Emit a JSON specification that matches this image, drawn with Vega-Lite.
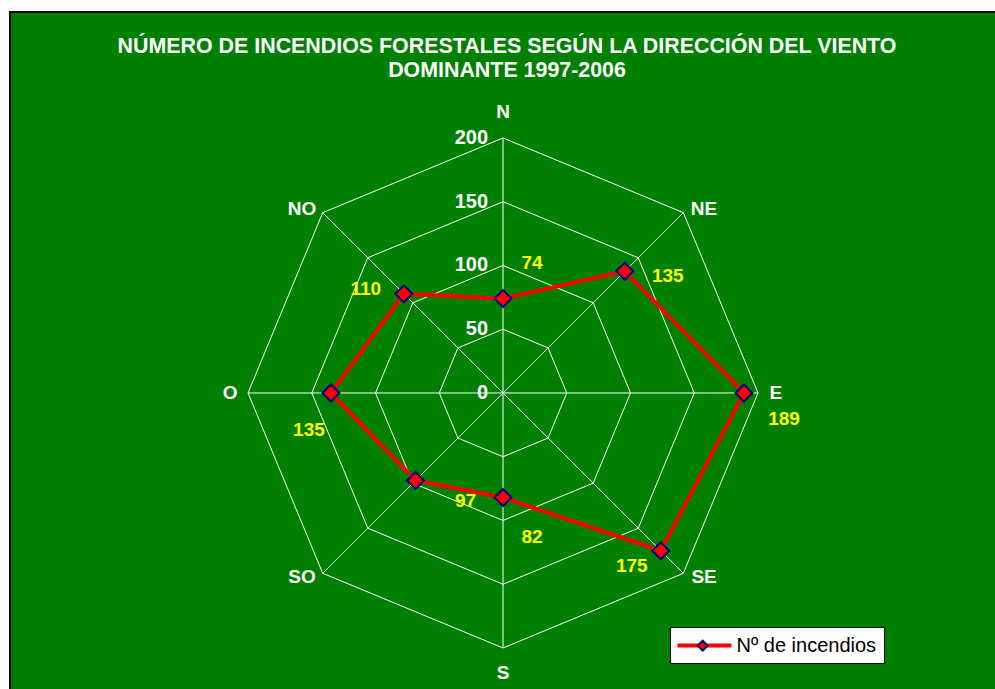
{
  "$schema": "https://vega.github.io/schema/vega-lite/v6.json",
  "autosize": {"type": "none"},
  "width": 990,
  "height": 682,
  "padding": {"left": 10, "top": 12, "right": 0, "bottom": 0},
  "background": "white",
  "config": {"view": {"fill": "#008000", "stroke": "black", "strokeWidth": 2}},
  "title": {
    "text": ["NÚMERO DE INCENDIOS FORESTALES SEGÚN LA DIRECCIÓN DEL VIENTO", "DOMINANTE 1997-2006"],
    "color": "white", "font": "Liberation Sans", "fontSize": 21.4, "fontWeight": "bold",
    "anchor": "middle", "baseline": "alphabetic", "offset": -86, "lineHeight": 24, "dx": 2
  },
  "datasets": {
    "main": [
      {"dir": "N", "k": 0, "v": 74, "serie": "Nº de incendios"},
      {"dir": "NE", "k": 1, "v": 135, "serie": "Nº de incendios"},
      {"dir": "E", "k": 2, "v": 189, "serie": "Nº de incendios"},
      {"dir": "SE", "k": 3, "v": 175, "serie": "Nº de incendios"},
      {"dir": "S", "k": 4, "v": 82, "serie": "Nº de incendios"},
      {"dir": "SO", "k": 5, "v": 97, "serie": "Nº de incendios"},
      {"dir": "O", "k": 6, "v": 135, "serie": "Nº de incendios"},
      {"dir": "NO", "k": 7, "v": 110, "serie": "Nº de incendios"}
    ],
    "grid": [
      {"k": 0, "r": 50}, {"k": 1, "r": 50}, {"k": 2, "r": 50}, {"k": 3, "r": 50},
      {"k": 4, "r": 50}, {"k": 5, "r": 50}, {"k": 6, "r": 50}, {"k": 7, "r": 50},
      {"k": 0, "r": 100}, {"k": 1, "r": 100}, {"k": 2, "r": 100}, {"k": 3, "r": 100},
      {"k": 4, "r": 100}, {"k": 5, "r": 100}, {"k": 6, "r": 100}, {"k": 7, "r": 100},
      {"k": 0, "r": 150}, {"k": 1, "r": 150}, {"k": 2, "r": 150}, {"k": 3, "r": 150},
      {"k": 4, "r": 150}, {"k": 5, "r": 150}, {"k": 6, "r": 150}, {"k": 7, "r": 150},
      {"k": 0, "r": 200}, {"k": 1, "r": 200}, {"k": 2, "r": 200}, {"k": 3, "r": 200},
      {"k": 4, "r": 200}, {"k": 5, "r": 200}, {"k": 6, "r": 200}, {"k": 7, "r": 200}
    ],
    "ticks": [{"t": 0}, {"t": 50}, {"t": 100}, {"t": 150}, {"t": 200}]
  },
  "encoding": {
    "x": {"field": "px", "type": "quantitative", "axis": null,
          "scale": {"domain": [-386.7, 389.8], "nice": false, "zero": false}},
    "y": {"field": "py", "type": "quantitative", "axis": null,
          "scale": {"domain": [-236.1, 298.8], "nice": false, "zero": false}}
  },
  "layer": [
    {
      "data": {"name": "grid"},
      "transform": [
        {"calculate": "datum.r * sin(datum.k * PI / 4)", "as": "px"},
        {"calculate": "datum.r * cos(datum.k * PI / 4)", "as": "py"}
      ],
      "mark": {"type": "line", "interpolate": "linear-closed", "stroke": "white", "strokeWidth": 1},
      "encoding": {"detail": {"field": "r", "type": "nominal"}, "order": {"field": "k", "type": "quantitative"}}
    },
    {
      "data": {"name": "grid"},
      "transform": [
        {"filter": "datum.r == 200"},
        {"calculate": "datum.r * sin(datum.k * PI / 4)", "as": "px"},
        {"calculate": "datum.r * cos(datum.k * PI / 4)", "as": "py"}
      ],
      "mark": {"type": "rule", "stroke": "white", "strokeWidth": 1},
      "encoding": {"x2": {"datum": 0}, "y2": {"datum": 0}}
    },
    {
      "data": {"name": "ticks"},
      "transform": [
        {"calculate": "0", "as": "px"},
        {"calculate": "datum.t", "as": "py"}
      ],
      "mark": {"type": "text", "align": "right", "baseline": "middle", "dx": -15,
               "color": "white", "font": "Liberation Sans", "fontSize": 20, "fontWeight": "bold"},
      "encoding": {"text": {"field": "t", "type": "quantitative"}}
    },
    {
      "data": {"name": "main"},
      "transform": [
        {"calculate": "(datum.k % 2 == 1 ? 223 : 214) * sin(datum.k * PI / 4)", "as": "px"},
        {"calculate": "(datum.k % 2 == 1 ? 204 : 220) * cos(datum.k * PI / 4)", "as": "py"}
      ],
      "mark": {"type": "text", "align": "center", "baseline": "middle",
               "color": "white", "font": "Liberation Sans", "fontSize": 19, "fontWeight": "bold"},
      "encoding": {"text": {"field": "dir", "type": "nominal"}}
    },
    {
      "data": {"name": "main"},
      "transform": [
        {"calculate": "datum.v * sin(datum.k * PI / 4)", "as": "px"},
        {"calculate": "datum.v * cos(datum.k * PI / 4)", "as": "py"}
      ],
      "layer": [
        {
          "mark": {"type": "line", "interpolate": "linear-closed", "strokeWidth": 4},
          "encoding": {
            "order": {"field": "k", "type": "quantitative"},
            "stroke": {"field": "serie", "type": "nominal",
              "scale": {"range": ["#FF0000"]},
              "legend": {"orient": "none", "legendX": 660, "legendY": 615, "title": null,
                "symbolType": "M-3,0L3,0", "symbolSize": 324, "symbolStrokeWidth": 4,
                "symbolOffset": 16, "labelOffset": 21, "padding": 7.5,
                "fillColor": "white", "strokeColor": "black",
                "labelFont": "Liberation Sans", "labelFontSize": 20, "labelColor": "black",
                "zindex": 1}}
          }
        },
        {
          "mark": {"type": "point", "shape": "diamond", "filled": true, "size": 289,
                   "stroke": "#000080", "strokeWidth": 2, "opacity": 1},
          "encoding": {
            "fill": {"datum": "Nº de incendios",
              "scale": {"range": ["#FF0000"]},
              "legend": {"orient": "none", "legendX": 686.7, "legendY": 627.7, "title": null,
                "symbolType": "diamond", "symbolSize": 100, "symbolStrokeColor": "#000080",
                "symbolStrokeWidth": 2, "padding": 0, "labelExpr": "''", "labelFontSize": 1,
                "zindex": 2}}
          }
        },
        {"transform": [{"filter": "datum.dir == 'N'"}], "mark": {"type": "text", "dx": 29, "dy": -36, "color": "#FFFF00", "font": "Liberation Sans", "fontSize": 19, "fontWeight": "bold", "baseline": "middle"}, "encoding": {"text": {"field": "v", "type": "quantitative"}}},
        {"transform": [{"filter": "datum.dir == 'NE'"}], "mark": {"type": "text", "dx": 43, "dy": 5, "color": "#FFFF00", "font": "Liberation Sans", "fontSize": 19, "fontWeight": "bold", "baseline": "middle"}, "encoding": {"text": {"field": "v", "type": "quantitative"}}},
        {"transform": [{"filter": "datum.dir == 'E'"}], "mark": {"type": "text", "dx": 40, "dy": 26, "color": "#FFFF00", "font": "Liberation Sans", "fontSize": 19, "fontWeight": "bold", "baseline": "middle"}, "encoding": {"text": {"field": "v", "type": "quantitative"}}},
        {"transform": [{"filter": "datum.dir == 'SE'"}], "mark": {"type": "text", "dx": -29, "dy": 15, "color": "#FFFF00", "font": "Liberation Sans", "fontSize": 19, "fontWeight": "bold", "baseline": "middle"}, "encoding": {"text": {"field": "v", "type": "quantitative"}}},
        {"transform": [{"filter": "datum.dir == 'S'"}], "mark": {"type": "text", "dx": 29, "dy": 39, "color": "#FFFF00", "font": "Liberation Sans", "fontSize": 19, "fontWeight": "bold", "baseline": "middle"}, "encoding": {"text": {"field": "v", "type": "quantitative"}}},
        {"transform": [{"filter": "datum.dir == 'SO'"}], "mark": {"type": "text", "dx": 50, "dy": 21, "color": "#FFFF00", "font": "Liberation Sans", "fontSize": 19, "fontWeight": "bold", "baseline": "middle"}, "encoding": {"text": {"field": "v", "type": "quantitative"}}},
        {"transform": [{"filter": "datum.dir == 'O'"}], "mark": {"type": "text", "dx": -22, "dy": 37, "color": "#FFFF00", "font": "Liberation Sans", "fontSize": 19, "fontWeight": "bold", "baseline": "middle"}, "encoding": {"text": {"field": "v", "type": "quantitative"}}},
        {"transform": [{"filter": "datum.dir == 'NO'"}], "mark": {"type": "text", "dx": -38, "dy": -5, "color": "#FFFF00", "font": "Liberation Sans", "fontSize": 19, "fontWeight": "bold", "baseline": "middle"}, "encoding": {"text": {"field": "v", "type": "quantitative"}}}
      ]
    }
  ]
}
